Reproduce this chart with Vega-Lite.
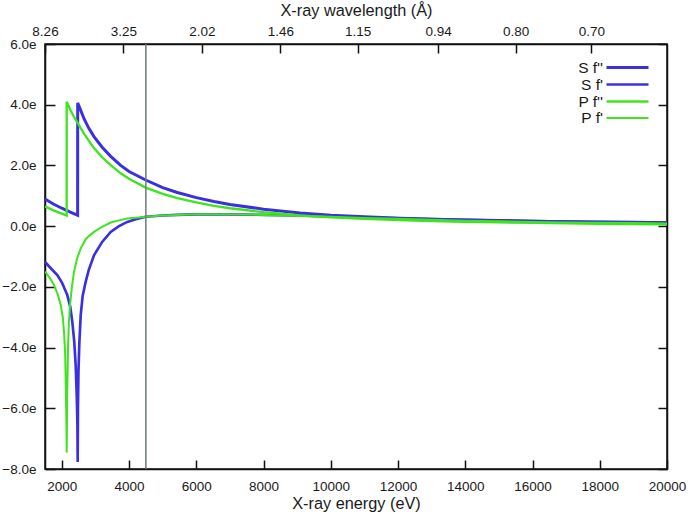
{
  "$schema": "https://vega.github.io/schema/vega-lite/v6.json",
  "width": 622,
  "height": 425,
  "autosize": {"type": "none"},
  "padding": {"left": 45, "top": 44, "right": 25, "bottom": 44},
  "background": "white",
  "config": {
    "font": "Liberation Sans",
    "view": {"stroke": "#111111", "strokeWidth": 1.5},
    "axis": {
      "grid": false,
      "labelFont": "Liberation Sans",
      "labelFontSize": 13.5,
      "labelColor": "#1a1a1a",
      "tickColor": "#111111",
      "tickWidth": 1.5,
      "domainColor": "#111111",
      "domainWidth": 1.5,
      "titleFont": "Liberation Sans",
      "titleFontSize": 16.3,
      "titleFontWeight": "normal",
      "titleColor": "#1a1a1a",
      "labelFlush": false,
      "labelOverlap": false
    }
  },
  "datasets": {
    "curves": [
      {"series": "S f''", "energy": 1500, "value": 0.89},
      {"series": "S f''", "energy": 1750, "value": 0.73},
      {"series": "S f''", "energy": 2000, "value": 0.59},
      {"series": "S f''", "energy": 2250, "value": 0.46},
      {"series": "S f''", "energy": 2471, "value": 0.36},
      {"series": "S f''", "energy": 2472, "value": 4.06},
      {"series": "S f''", "energy": 2550, "value": 3.85},
      {"series": "S f''", "energy": 2660, "value": 3.54},
      {"series": "S f''", "energy": 2800, "value": 3.23},
      {"series": "S f''", "energy": 2957, "value": 2.95},
      {"series": "S f''", "energy": 3200, "value": 2.60},
      {"series": "S f''", "energy": 3454, "value": 2.30},
      {"series": "S f''", "energy": 3750, "value": 2.00},
      {"series": "S f''", "energy": 4000, "value": 1.80},
      {"series": "S f''", "energy": 4495, "value": 1.52},
      {"series": "S f''", "energy": 5000, "value": 1.27},
      {"series": "S f''", "energy": 5435, "value": 1.11},
      {"series": "S f''", "energy": 6000, "value": 0.94},
      {"series": "S f''", "energy": 6526, "value": 0.81},
      {"series": "S f''", "energy": 7000, "value": 0.71},
      {"series": "S f''", "energy": 8000, "value": 0.56},
      {"series": "S f''", "energy": 9084, "value": 0.43},
      {"series": "S f''", "energy": 10000, "value": 0.36},
      {"series": "S f''", "energy": 11000, "value": 0.31},
      {"series": "S f''", "energy": 12058, "value": 0.26},
      {"series": "S f''", "energy": 13000, "value": 0.23},
      {"series": "S f''", "energy": 14000, "value": 0.20},
      {"series": "S f''", "energy": 15033, "value": 0.18},
      {"series": "S f''", "energy": 16000, "value": 0.16},
      {"series": "S f''", "energy": 17000, "value": 0.145},
      {"series": "S f''", "energy": 18000, "value": 0.13},
      {"series": "S f''", "energy": 19000, "value": 0.12},
      {"series": "S f''", "energy": 20000, "value": 0.11},

      {"series": "S f'", "energy": 1500, "value": -1.18},
      {"series": "S f'", "energy": 1700, "value": -1.42},
      {"series": "S f'", "energy": 1866, "value": -1.61},
      {"series": "S f'", "energy": 2000, "value": -1.85},
      {"series": "S f'", "energy": 2163, "value": -2.27},
      {"series": "S f'", "energy": 2250, "value": -2.65},
      {"series": "S f'", "energy": 2312, "value": -3.15},
      {"series": "S f'", "energy": 2370, "value": -3.8},
      {"series": "S f'", "energy": 2413, "value": -4.6},
      {"series": "S f'", "energy": 2445, "value": -5.6},
      {"series": "S f'", "energy": 2465, "value": -6.6},
      {"series": "S f'", "energy": 2472, "value": -7.77},
      {"series": "S f'", "energy": 2480, "value": -6.0},
      {"series": "S f'", "energy": 2495, "value": -4.8},
      {"series": "S f'", "energy": 2520, "value": -3.9},
      {"series": "S f'", "energy": 2562, "value": -2.93},
      {"series": "S f'", "energy": 2620, "value": -2.3},
      {"series": "S f'", "energy": 2710, "value": -1.83},
      {"series": "S f'", "energy": 2800, "value": -1.45},
      {"series": "S f'", "energy": 2957, "value": -0.96},
      {"series": "S f'", "energy": 3200, "value": -0.52},
      {"series": "S f'", "energy": 3454, "value": -0.19},
      {"series": "S f'", "energy": 3700, "value": 0.0},
      {"series": "S f'", "energy": 3948, "value": 0.14},
      {"series": "S f'", "energy": 4200, "value": 0.23},
      {"series": "S f'", "energy": 4495, "value": 0.31},
      {"series": "S f'", "energy": 5000, "value": 0.35},
      {"series": "S f'", "energy": 5435, "value": 0.37},
      {"series": "S f'", "energy": 6000, "value": 0.39},
      {"series": "S f'", "energy": 6526, "value": 0.39},
      {"series": "S f'", "energy": 7000, "value": 0.39},
      {"series": "S f'", "energy": 8000, "value": 0.37},
      {"series": "S f'", "energy": 9000, "value": 0.35},
      {"series": "S f'", "energy": 10000, "value": 0.32},
      {"series": "S f'", "energy": 11000, "value": 0.29},
      {"series": "S f'", "energy": 12000, "value": 0.26},
      {"series": "S f'", "energy": 13000, "value": 0.23},
      {"series": "S f'", "energy": 14000, "value": 0.21},
      {"series": "S f'", "energy": 15000, "value": 0.19},
      {"series": "S f'", "energy": 16000, "value": 0.17},
      {"series": "S f'", "energy": 17000, "value": 0.15},
      {"series": "S f'", "energy": 18000, "value": 0.14},
      {"series": "S f'", "energy": 19000, "value": 0.13},
      {"series": "S f'", "energy": 20000, "value": 0.12},

      {"series": "P f''", "energy": 1500, "value": 0.65},
      {"series": "P f''", "energy": 1750, "value": 0.52},
      {"series": "P f''", "energy": 2000, "value": 0.41},
      {"series": "P f''", "energy": 2144, "value": 0.35},
      {"series": "P f''", "energy": 2145, "value": 4.10},
      {"series": "P f''", "energy": 2250, "value": 3.84},
      {"series": "P f''", "energy": 2350, "value": 3.62},
      {"series": "P f''", "energy": 2460, "value": 3.42},
      {"series": "P f''", "energy": 2660, "value": 3.05},
      {"series": "P f''", "energy": 2800, "value": 2.82},
      {"series": "P f''", "energy": 2957, "value": 2.57},
      {"series": "P f''", "energy": 3200, "value": 2.27},
      {"series": "P f''", "energy": 3454, "value": 2.01},
      {"series": "P f''", "energy": 3750, "value": 1.74},
      {"series": "P f''", "energy": 4000, "value": 1.56},
      {"series": "P f''", "energy": 4495, "value": 1.27},
      {"series": "P f''", "energy": 5000, "value": 1.06},
      {"series": "P f''", "energy": 5435, "value": 0.92},
      {"series": "P f''", "energy": 6000, "value": 0.78},
      {"series": "P f''", "energy": 6526, "value": 0.67},
      {"series": "P f''", "energy": 7000, "value": 0.59},
      {"series": "P f''", "energy": 8000, "value": 0.46},
      {"series": "P f''", "energy": 9084, "value": 0.35},
      {"series": "P f''", "energy": 10000, "value": 0.29},
      {"series": "P f''", "energy": 11000, "value": 0.24},
      {"series": "P f''", "energy": 12058, "value": 0.20},
      {"series": "P f''", "energy": 13000, "value": 0.17},
      {"series": "P f''", "energy": 14000, "value": 0.145},
      {"series": "P f''", "energy": 15033, "value": 0.125},
      {"series": "P f''", "energy": 16000, "value": 0.11},
      {"series": "P f''", "energy": 17000, "value": 0.095},
      {"series": "P f''", "energy": 18000, "value": 0.08},
      {"series": "P f''", "energy": 19000, "value": 0.07},
      {"series": "P f''", "energy": 20000, "value": 0.06},

      {"series": "P f'", "energy": 1500, "value": -1.50},
      {"series": "P f'", "energy": 1650, "value": -1.72},
      {"series": "P f'", "energy": 1768, "value": -1.94},
      {"series": "P f'", "energy": 1880, "value": -2.25},
      {"series": "P f'", "energy": 1967, "value": -2.60},
      {"series": "P f'", "energy": 2030, "value": -3.00},
      {"series": "P f'", "energy": 2065, "value": -3.48},
      {"series": "P f'", "energy": 2100, "value": -4.20},
      {"series": "P f'", "energy": 2116, "value": -5.13},
      {"series": "P f'", "energy": 2135, "value": -6.3},
      {"series": "P f'", "energy": 2145, "value": -7.46},
      {"series": "P f'", "energy": 2160, "value": -5.6},
      {"series": "P f'", "energy": 2184, "value": -4.03},
      {"series": "P f'", "energy": 2210, "value": -3.2},
      {"series": "P f'", "energy": 2244, "value": -2.60},
      {"series": "P f'", "energy": 2300, "value": -2.0},
      {"series": "P f'", "energy": 2363, "value": -1.50},
      {"series": "P f'", "energy": 2450, "value": -1.08},
      {"series": "P f'", "energy": 2562, "value": -0.73},
      {"series": "P f'", "energy": 2710, "value": -0.43},
      {"series": "P f'", "energy": 2800, "value": -0.33},
      {"series": "P f'", "energy": 2957, "value": -0.19},
      {"series": "P f'", "energy": 3200, "value": -0.02},
      {"series": "P f'", "energy": 3454, "value": 0.12},
      {"series": "P f'", "energy": 3700, "value": 0.19},
      {"series": "P f'", "energy": 3948, "value": 0.25},
      {"series": "P f'", "energy": 4200, "value": 0.28},
      {"series": "P f'", "energy": 4495, "value": 0.31},
      {"series": "P f'", "energy": 5000, "value": 0.35},
      {"series": "P f'", "energy": 5435, "value": 0.37},
      {"series": "P f'", "energy": 6000, "value": 0.39},
      {"series": "P f'", "energy": 6526, "value": 0.39},
      {"series": "P f'", "energy": 7000, "value": 0.39},
      {"series": "P f'", "energy": 8000, "value": 0.37},
      {"series": "P f'", "energy": 9000, "value": 0.34},
      {"series": "P f'", "energy": 10000, "value": 0.31},
      {"series": "P f'", "energy": 11000, "value": 0.27},
      {"series": "P f'", "energy": 12000, "value": 0.24},
      {"series": "P f'", "energy": 13000, "value": 0.21},
      {"series": "P f'", "energy": 14000, "value": 0.18},
      {"series": "P f'", "energy": 15000, "value": 0.16},
      {"series": "P f'", "energy": 16000, "value": 0.14},
      {"series": "P f'", "energy": 17000, "value": 0.12},
      {"series": "P f'", "energy": 18000, "value": 0.11},
      {"series": "P f'", "energy": 19000, "value": 0.10},
      {"series": "P f'", "energy": 20000, "value": 0.09}
    ],
    "marker": [{"energy": 4500}]
  },
  "layer": [
    {
      "data": {"name": "curves"},
      "mark": {"type": "line", "clip": true},
      "encoding": {
        "x": {
          "field": "energy", "type": "quantitative",
          "scale": {"domain": [1500, 20000], "nice": false, "zero": false},
          "axis": {
            "orient": "bottom",
            "values": [2000, 4000, 6000, 8000, 10000, 12000, 14000, 16000, 18000, 20000],
            "format": "d",
            "tickSize": -9,
            "labelPadding": 19,
            "title": "X-ray energy (eV)",
            "titlePadding": 3
          }
        },
        "y": {
          "field": "value", "type": "quantitative",
          "scale": {"domain": [-8, 6], "nice": false, "zero": false},
          "axis": {
            "orient": "left",
            "values": [-8, -6, -4, -2, 0, 2, 4, 6],
            "labelExpr": "format(datum.value, '.1f') + 'e'",
            "tickSize": -10,
            "labelPadding": 19,
            "title": null
          }
        },
        "color": {
          "field": "series", "type": "nominal",
          "scale": {"domain": ["S f''", "S f'", "P f''", "P f'"], "range": ["#3a30e2", "#3a30e2", "#3ee41c", "#3ee41c"]},
          "legend": {
            "orient": "none", "legendX": 574, "legendY": 15, "title": null,
            "symbolType": "M-3,0H3", "symbolSize": 196,
            "labelAlign": "right", "labelOffset": -33, "labelFontSize": 15.5,
            "labelBaseline": "middle", "rowPadding": 0, "padding": 0,
            "labelLimit": 0, "labelColor": "#1a1a1a", "labelFont": "Liberation Sans"
          }
        },
        "strokeWidth": {
          "field": "series", "type": "nominal",
          "scale": {"domain": ["S f''", "S f'", "P f''", "P f'"], "range": [3, 2, 3, 2]},
          "legend": {
            "orient": "none", "legendX": 574, "legendY": 15, "title": null,
            "symbolType": "M-3,0H3", "symbolSize": 196,
            "labelAlign": "right", "labelOffset": -33, "labelFontSize": 15.5,
            "labelBaseline": "middle", "rowPadding": 0, "padding": 0,
            "labelLimit": 0, "labelColor": "#1a1a1a", "labelFont": "Liberation Sans"
          }
        }
      }
    },
    {
      "data": {"name": "marker"},
      "mark": {"type": "rule", "color": "#6c7b7c", "strokeWidth": 1.5},
      "encoding": {
        "x": {
          "field": "energy", "type": "quantitative",
          "scale": {"domain": [1500, 20000], "nice": false, "zero": false},
          "axis": {
            "orient": "top",
            "values": [1500, 3833, 6167, 8500, 10800, 13190, 15500, 17750],
            "labelExpr": "datum.value < 2000 ? '8.26' : datum.value < 5000 ? '3.25' : datum.value < 7000 ? '2.02' : datum.value < 9500 ? '1.46' : datum.value < 12000 ? '1.15' : datum.value < 14000 ? '0.94' : datum.value < 16500 ? '0.80' : '0.70'",
            "tickSize": -9,
            "labelPadding": 15,
            "title": "X-ray wavelength (Å)",
            "titlePadding": 6
          }
        },
        "y": {
          "datum": -8, "type": "quantitative",
          "scale": {"domain": [-8, 6], "nice": false, "zero": false},
          "axis": {
            "orient": "right",
            "values": [-8, -6, -4, -2, 0, 2, 4, 6],
            "labels": false,
            "tickSize": -9,
            "title": null
          }
        },
        "y2": {"datum": 6}
      }
    }
  ],
  "resolve": {"axis": {"x": "independent", "y": "independent"}}
}
